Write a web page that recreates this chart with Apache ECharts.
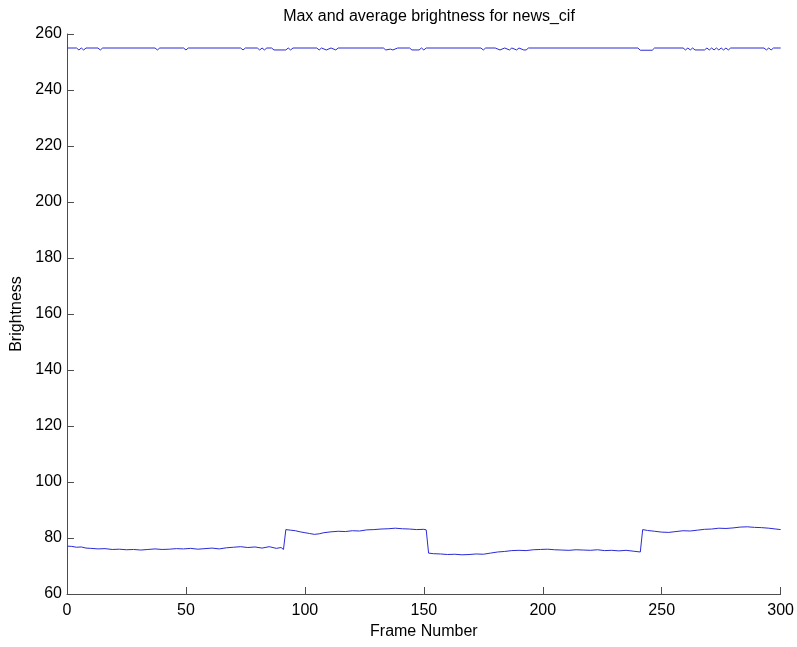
<!DOCTYPE html>
<html>
<head>
<meta charset="utf-8">
<script src="https://cdn.jsdelivr.net/npm/echarts@6/dist/echarts.min.js"></script>
<style>
html,body{margin:0;padding:0;background:#fff;}
#chart{width:797px;height:647px;}
</style>
</head>
<body>
<div id="chart"></div>
<script>
const titleText = 'Max and average brightness for news_cif';
const xName = 'Frame Number';
const yName = 'Brightness';

// Max brightness: read points [frame, value]
const maxPoints = [
  [0,255],[4,255],[5,254.3],[6,255],[7,254.3],[8,255],
  [13,255],[14,254.3],[15,255],
  [37,255],[38,254.3],[39,255],
  [49,255],[50,254.3],[51,255],
  [73,255],[74,254.3],[75,255],
  [80,255],[81,254.3],[82,255],[83,254.3],[84,255],
  [86,255],[87,254.3],[92,254.3],[93,255],[94,254.3],[95,255],
  [105,255],[106,254.3],[107,255],[109,254.3],[111,255],[113,254.3],[114,255],
  [133,255],[134,254.3],[136,254.6],[137,254.3],[139,255],
  [144,255],[145,254.3],[148,254.3],[149,255],[150,254.3],[151,255],
  [174,255],[175,254.3],[176,255],
  [180,255],[182,254.3],[184,255],[186,254.3],[187,255],[189,254.3],[190,255],[192,254.3],[193,254.3],[194,255],
  [240,255],[241,254.2],[246,254.2],[247,255],
  [259,255],[260,254.3],[261,255],[262,254.3],[263,255],[264,254.3],[268,254.3],[269,255],[270,254.3],[271,255],
  [272,254.3],[273,255],[274,254.3],[275,255],[276,254.3],[277,255],[278,254.3],[279,255],
  [293,255],[294,254.3],[295,255],[296,254.3],[297,255],
  [300,255]
];

// Average brightness: read points (frame, value)
const avgFrames = [0,2,4,6,8,10,13,16,19,22,25,28,31,34,37,40,43,46,49,52,55,58,61,64,67,70,73,76,79,82,85,88,90,91,
  92,94,96,98,100,102,104,106,108,111,114,117,120,123,126,129,132,135,138,141,144,147,150,151,
  152,154,157,160,163,166,169,172,175,178,181,184,187,190,193,196,199,202,205,208,211,214,217,220,223,226,229,232,235,238,241,
  242,244,247,250,253,256,259,262,265,268,271,274,277,280,283,286,289,292,295,298,300];
const avgValues = [77.1,77.0,76.7,76.8,76.4,76.3,76.1,76.2,75.9,76.0,75.8,75.9,75.7,75.9,76.1,75.9,76.0,76.2,76.1,76.3,76.0,76.2,76.4,76.1,76.5,76.7,76.9,76.6,76.8,76.4,76.9,76.3,76.6,75.9,
  83.0,82.8,82.6,82.2,81.9,81.6,81.3,81.5,81.9,82.2,82.4,82.3,82.6,82.5,82.9,83.0,83.2,83.3,83.5,83.3,83.2,83.0,83.1,82.9,
  74.6,74.4,74.3,74.1,74.2,74.0,74.1,74.3,74.2,74.6,75.0,75.2,75.5,75.6,75.5,75.8,75.9,76.0,75.8,75.7,75.6,75.8,75.7,75.6,75.8,75.5,75.6,75.4,75.6,75.3,75.0,
  83.0,82.7,82.4,82.1,82.0,82.3,82.6,82.5,82.8,83.1,83.2,83.5,83.4,83.6,83.9,84.0,83.8,83.7,83.5,83.2,83.0];

const xTicks = [0,50,100,150,200,250,300];
const yTicks = [60,80,100,120,140,160,180,200,220,240,260];

const avgData = avgFrames.map((f,i)=>[f,avgValues[i]]);

const chart = echarts.init(document.getElementById('chart'), null, {renderer:'canvas'});
const font = 'Liberation Sans, Arial, sans-serif';
const axisCol = '#4d4d4d';
const lineCol = '#2a2ad8';
chart.setOption({
  backgroundColor:'#ffffff',
  animation:false,
  title:{text:titleText,left:424,textAlign:'center',top:4,textStyle:{fontFamily:font,fontSize:16,fontWeight:'normal',color:'#000'}},
  grid:{left:67,right:15,top:34,bottom:53,containLabel:false},
  xAxis:{type:'value',min:xTicks[0],max:xTicks[xTicks.length-1],interval:50,
    name:xName,nameLocation:'middle',nameGap:30,nameTextStyle:{fontFamily:font,fontSize:16,color:'#000'},
    axisLine:{lineStyle:{color:axisCol,width:1}},
    axisTick:{inside:true,length:7,lineStyle:{color:axisCol}},
    axisLabel:{margin:9,fontFamily:font,fontSize:16,color:'#000'},
    splitLine:{show:false}},
  yAxis:{type:'value',min:yTicks[0],max:yTicks[yTicks.length-1],interval:20,
    name:yName,nameLocation:'middle',nameGap:40,nameTextStyle:{fontFamily:font,fontSize:16,color:'#000'},
    axisLine:{show:true,lineStyle:{color:axisCol,width:1}},
    axisTick:{show:true,inside:true,length:7,lineStyle:{color:axisCol}},
    axisLabel:{margin:5,fontFamily:font,fontSize:16,color:'#000'},
    splitLine:{show:false}},
  series:[
    {type:'line',data:maxPoints,showSymbol:false,lineStyle:{color:lineCol,width:1},silent:true},
    {type:'line',data:avgData,showSymbol:false,lineStyle:{color:lineCol,width:1},silent:true}
  ]
});
</script>
</body>
</html>
